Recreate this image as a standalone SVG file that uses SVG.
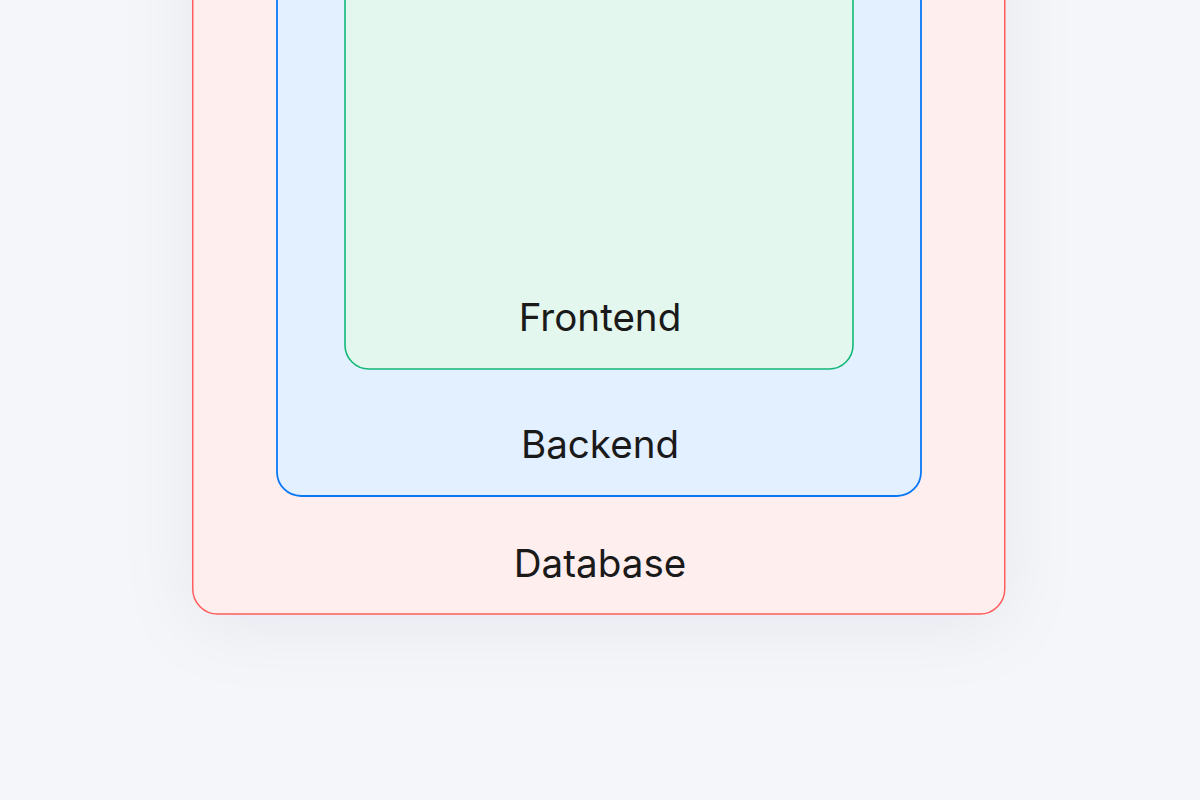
<svg xmlns="http://www.w3.org/2000/svg" width="1200" height="800" viewBox="0 0 1200 800">
<defs>
<filter id="sh" x="-30%" y="-30%" width="160%" height="160%">
<feDropShadow dx="0" dy="10" stdDeviation="36" flood-color="#1e2a50" flood-opacity="0.06"/>
</filter>
</defs>
<style>
.lbl{font-family:Inter,"Liberation Sans",sans-serif;font-size:38.6px;fill:#1a1a1a;text-anchor:middle}
</style>
<rect width="1200" height="800" fill="#f5f6fa"/>
<g id="database">
<rect x="192.75" y="-200" width="812" height="814" rx="25" fill="#ffeeee" stroke="#ff5c5c" stroke-width="1.5" filter="url(#sh)"/>
<text class="lbl" x="600" y="577">Database</text>
</g>
<g id="backend">
<rect x="277" y="-200" width="644" height="696" rx="24" fill="#e3f0ff" stroke="#0a78f5" stroke-width="1.8"/>
<text class="lbl" x="600" y="458">Backend</text>
</g>
<g id="frontend">
<rect x="345" y="-200" width="508" height="569" rx="24" fill="#e3f7ee" stroke="#12b878" stroke-width="1.6"/>
<text class="lbl" x="600" y="331">Frontend</text>
</g>
<g id="connectors"/>
</svg>
